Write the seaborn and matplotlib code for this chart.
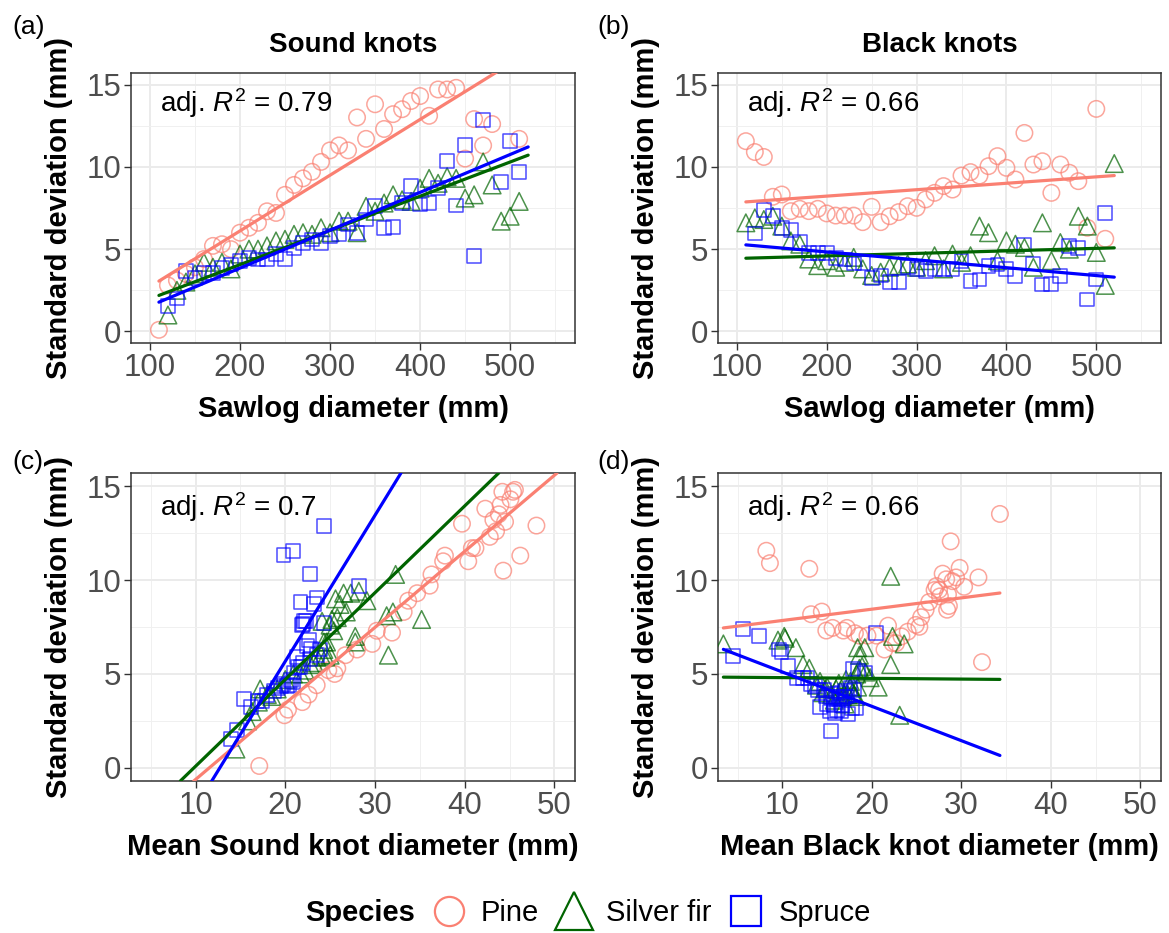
import numpy as np
import pandas as pd
import seaborn as sns
import matplotlib.pyplot as plt
from matplotlib.lines import Line2D
from matplotlib.ticker import MultipleLocator

sns.set_theme(style="white")
plt.rcParams['font.family'] = ['Liberation Sans', 'DejaVu Sans']
plt.rcParams['mathtext.fontset'] = 'custom'
plt.rcParams['mathtext.rm'] = 'Liberation Sans'
plt.rcParams['mathtext.it'] = 'Liberation Sans:italic'
plt.rcParams['text.color'] = 'black'
plt.rcParams['axes.labelcolor'] = 'black'

species = ["Pine", "Silver fir", "Spruce"]
colors = {"Pine": "#FA8072", "Silver fir": "#006400", "Spruce": "#0000FF"}
markers = {"Pine": "o", "Silver fir": "^", "Spruce": "s"}
msize = {"Pine": 140, "Silver fir": 160, "Spruce": 100}

# ---- Sound knots: sawlog diameter class, SD, mean knot diameter ----
pine_saw_a = [110, 120, 130, 140, 150, 160, 170, 180, 190, 200, 210, 220, 230, 240, 250, 260, 270, 280, 290, 300,
              310, 320, 330, 340, 350, 360, 370, 380, 390, 400, 410, 420, 430, 440, 450, 460, 470, 480, 510]
pine_sd_sound = [0.1, 2.8, 3.1, 3.5, 3.9, 4.4, 5.2, 5.3, 5.0, 6.0, 6.3, 6.6, 7.3, 7.2, 8.3, 8.9, 9.3, 9.7, 10.3, 11.0,
                 11.3, 11.0, 13.0, 11.7, 13.8, 12.3, 13.2, 13.5, 14.0, 14.3, 13.1, 14.7, 14.7, 14.8, 10.5, 12.9, 11.3, 12.6, 11.7]
pine_knot_sound = [17.1, 19.9, 20.3, 21.9, 22.6, 23.5, 24.8, 25.8, 25.5, 26.7, 28.0, 29.7, 30.2, 31.9, 33.2, 33.7, 34.7, 36.1, 36.3, 37.6,
                   37.8, 40.4, 39.7, 41.2, 42.3, 42.8, 43.2, 43.8, 44.0, 45.1, 44.5, 44.2, 45.4, 45.6, 44.3, 48.0, 46.2, 43.5, 40.8]

fir_saw_a = [120, 130, 140, 150, 160, 170, 180, 190, 200, 210, 220, 230, 240, 250, 260, 270, 280, 290, 300, 310,
             320, 330, 340, 350, 360, 370, 380, 390, 400, 410, 420, 430, 440, 450, 460, 470, 480, 490, 500, 510]
fir_sd_sound = [1.0, 2.5, 3.0, 3.5, 4.2, 3.9, 4.2, 3.8, 4.7, 5.0, 5.0, 5.2, 5.5, 5.6, 5.9, 6.0, 5.9, 6.3, 6.0, 6.7,
                6.7, 6.0, 7.6, 7.3, 7.8, 8.3, 8.0, 7.9, 8.7, 9.3, 9.0, 9.4, 9.3, 8.1, 8.3, 10.3, 8.9, 6.7, 7.0, 7.9]
fir_knot_sound = [14.5, 15.8, 16.3, 17.0, 17.2, 18.0, 19.1, 18.5, 20.0, 20.9, 21.7, 22.2, 22.8, 23.2, 23.5, 24.0, 24.5, 24.3, 25.0, 24.3,
                  27.8, 31.5, 25.0, 25.4, 24.1, 32.0, 25.8, 35.2, 26.1, 27.3, 25.6, 28.2, 26.5, 31.3, 26.8, 32.3, 29.1, 24.6, 27.8, 25.2]

spruce_saw_a = [120, 130, 140, 150, 160, 170, 180, 190, 200, 210, 220, 230, 240, 250, 260, 270, 280, 290, 300, 310,
                320, 330, 340, 350, 360, 370, 380, 390, 400, 410, 420, 430, 440, 450, 460, 470, 490, 500, 510]
spruce_sd_sound = [1.54, 2.0, 3.66, 3.26, 3.56, 3.56, 3.87, 4.07, 4.27, 4.47, 4.37, 4.37, 4.68, 4.41, 5.08, 5.38, 5.59, 5.38, 5.79, 5.89,
                   6.5, 5.99, 6.8, 7.61, 6.3, 6.35, 7.81, 8.83, 7.71, 7.81, 8.72, 10.34, 7.65, 11.35, 4.57, 12.87, 9.07, 11.56, 9.68]
spruce_knot_sound = [13.9, 14.6, 15.4, 16.2, 16.9, 17.4, 18.0, 18.7, 19.2, 19.8, 19.5, 20.2, 20.6, 20.4, 21.0, 21.7, 22.0, 21.4, 22.8, 21.3,
                     22.4, 23.5, 22.6, 21.9, 23.9, 22.9, 22.1, 21.7, 24.3, 22.3, 23.2, 22.8, 22.0, 19.8, 20.9, 24.3, 23.5, 20.9, 28.2]

# ---- Black knots ----
pine_saw_b = [110, 120, 130, 140, 150, 160, 170, 180, 190, 200, 210, 220, 230, 240, 250, 260, 270, 280, 290, 300,
              310, 320, 330, 340, 350, 360, 370, 380, 390, 400, 410, 420, 430, 440, 450, 460, 470, 480, 490, 500, 510]
pine_sd_black = [11.56, 10.9, 10.6, 8.18, 8.32, 7.31, 7.45, 7.31, 7.45, 7.17, 7.04, 7.04, 7.04, 6.64, 7.57, 6.64, 7.0, 7.25, 7.61, 7.51,
                 8.02, 8.42, 8.83, 8.62, 9.47, 9.68, 9.47, 10.04, 10.65, 9.94, 9.23, 12.06, 10.14, 10.34, 8.42, 10.14, 9.64, 9.13, 6.3, 13.52, 5.63]
pine_knot_black = [8.2, 8.6, 13.0, 13.2, 14.4, 14.9, 15.6, 16.8, 17.2, 18.1, 18.6, 19.5, 20.5, 22.3, 21.8, 22.7, 23.3, 24.0, 24.9, 25.3,
                   25.5, 26.0, 26.4, 28.6, 27.0, 27.2, 27.5, 28.3, 29.8, 29.0, 28.5, 28.8, 29.4, 27.9, 28.4, 31.9, 30.3, 27.6, 21.4, 34.3, 32.3]

fir_saw_b = [110, 120, 130, 140, 150, 160, 170, 180, 190, 200, 210, 220, 230, 240, 250, 260, 270, 280, 290, 300, 310,
             320, 330, 340, 350, 360, 370, 380, 390, 400, 410, 420, 430, 440, 450, 460, 470, 480, 490, 500, 510, 520]
fir_sd_black = [6.6, 6.9, 6.8, 7.0, 6.4, 5.5, 5.3, 4.4, 4.0, 4.3, 3.9, 4.2, 4.5, 3.8, 3.4, 3.6, 3.9, 4.0, 4.1, 3.9, 4.3,
                4.6, 3.8, 4.7, 4.2, 4.6, 6.4, 6.0, 4.3, 5.5, 5.3, 5.1, 3.9, 6.6, 4.3, 5.4, 5.0, 7.0, 6.4, 4.8, 2.8, 10.2]
fir_knot_black = [3.4, 10.3, 9.5, 10.2, 11.5, 12.3, 13.0, 13.8, 14.5, 15.0, 15.5, 16.0, 16.3, 16.7, 17.0, 15.8, 17.3, 17.8, 16.5, 18.0, 18.4,
                  17.6, 18.2, 17.1, 14.8, 14.2, 18.4, 18.6, 20.7, 22.1, 18.6, 19.3, 16.9, 23.6, 17.6, 18.9, 18.3, 22.3, 19.2, 19.8, 23.1, 22.1]

spruce_saw_b = [120, 130, 140, 150, 160, 170, 180, 190, 200, 210, 220, 230, 240, 250, 260, 270, 280, 290, 300, 310,
                320, 330, 340, 350, 360, 370, 380, 390, 400, 410, 420, 430, 440, 450, 460, 470, 480, 490, 500, 510]
spruce_sd_black = [5.95, 7.37, 7.0, 6.3, 6.15, 5.43, 4.78, 4.78, 4.78, 4.47, 4.37, 4.13, 4.17, 3.26, 3.4, 3.0, 3.0, 3.93, 3.77, 3.66,
                   3.77, 3.8, 3.77, 4.27, 3.06, 3.16, 4.0, 4.07, 3.8, 3.36, 5.28, 4.13, 2.85, 2.91, 3.36, 5.18, 5.08, 1.94, 3.16, 7.2]
spruce_knot_black = [4.5, 5.6, 7.4, 9.6, 9.9, 10.6, 11.6, 12.3, 12.8, 13.2, 13.6, 14.0, 14.6, 14.2, 15.0, 15.3, 16.6, 15.6, 16.0, 16.3,
                     16.9, 17.2, 15.4, 17.6, 16.1, 17.8, 16.5, 17.0, 14.9, 15.8, 17.9, 18.0, 17.3, 15.9, 16.7, 18.4, 19.2, 15.4, 18.2, 20.5]

# ---- fitted lines (end points) ----
fit_x_saw = [110, 520]
fit_a = {"Pine": [3.06, 16.94], "Silver fir": [2.19, 10.71], "Spruce": [1.78, 11.21]}
fit_b = {"Pine": [7.87, 9.47], "Silver fir": [4.45, 5.08], "Spruce": [5.26, 3.30]}
fit_c_x = {"Pine": [9.8, 50.3], "Silver fir": [8.3, 43.8], "Spruce": [11.8, 32.9]}
fit_c_y = {"Pine": [-0.7, 15.7], "Silver fir": [-0.7, 15.7], "Spruce": [-0.7, 15.7]}
fit_x_black = [3.4, 34.3]
fit_d = {"Pine": [7.45, 9.31], "Silver fir": [4.83, 4.71], "Spruce": [6.31, 0.66]}

r2_labels = ["0.79", "0.66", "0.7", "0.66"]

panels = {
    "a": {"Pine": (pine_saw_a, pine_sd_sound), "Silver fir": (fir_saw_a, fir_sd_sound), "Spruce": (spruce_saw_a, spruce_sd_sound)},
    "b": {"Pine": (pine_saw_b, pine_sd_black), "Silver fir": (fir_saw_b, fir_sd_black), "Spruce": (spruce_saw_b, spruce_sd_black)},
    "c": {"Pine": (pine_knot_sound, pine_sd_sound), "Silver fir": (fir_knot_sound, fir_sd_sound), "Spruce": (spruce_knot_sound, spruce_sd_sound)},
    "d": {"Pine": (pine_knot_black, pine_sd_black), "Silver fir": (fir_knot_black, fir_sd_black), "Spruce": (spruce_knot_black, spruce_sd_black)},
}
fits = {
    "a": {s: (fit_x_saw, fit_a[s]) for s in species},
    "b": {s: (fit_x_saw, fit_b[s]) for s in species},
    "c": {s: (fit_c_x[s], fit_c_y[s]) for s in species},
    "d": {s: (fit_x_black, fit_d[s]) for s in species},
}

W, H = 1169, 933
fig = plt.figure(figsize=(W / 100, H / 100), dpi=100)


def rect(l, t, r, b):
    return [l / W, 1 - b / H, (r - l) / W, (b - t) / H]


axes = {
    "a": fig.add_axes(rect(131, 73, 575, 343)),
    "b": fig.add_axes(rect(718, 73, 1161, 343)),
    "c": fig.add_axes(rect(131, 473, 575, 781)),
    "d": fig.add_axes(rect(718, 473, 1161, 781)),
}
xlabels = {"a": "Sawlog diameter (mm)", "b": "Sawlog diameter (mm)",
           "c": "Mean Sound knot diameter (mm)", "d": "Mean Black knot diameter (mm)"}

for i, key in enumerate("abcd"):
    ax = axes[key]
    for s in species:
        x, y = panels[key][s]
        sns.scatterplot(x=x, y=y, ax=ax, marker=markers[s], s=msize[s], color=colors[s],
                        facecolor="none", edgecolor=colors[s], linewidth=1.1, alpha=0.7, zorder=3)
    for s in species:
        fx, fy = fits[key][s]
        sns.lineplot(x=fx, y=fy, ax=ax, color=colors[s], lw=2.3, zorder=4)

    if key in "ab":
        ax.set_xlim(79, 572)
        ax.xaxis.set_major_locator(MultipleLocator(100))
        ax.xaxis.set_minor_locator(MultipleLocator(50))
    else:
        ax.set_xlim(2.8, 52.3)
        ax.xaxis.set_major_locator(MultipleLocator(10))
        ax.xaxis.set_minor_locator(MultipleLocator(5))
    ax.set_ylim(-0.7, 15.7)
    ax.yaxis.set_major_locator(MultipleLocator(5))
    ax.yaxis.set_minor_locator(MultipleLocator(2.5))

    ax.grid(which="major", color="#EBEBEB", lw=1.4, zorder=0)
    ax.grid(which="minor", color="#F0F0F0", lw=0.7, zorder=0)
    ax.set_axisbelow(True)
    for sp in ax.spines.values():
        sp.set_color("#333333")
        sp.set_linewidth(1.1)
    ax.tick_params(which="major", length=5, width=1.0, color="#333333", labelsize=22.5,
                   labelcolor="#4D4D4D", pad=2, bottom=True, left=True)
    ax.tick_params(which="minor", length=0)

    ax.set_xlabel(xlabels[key], fontsize=21, fontweight="bold", labelpad=8.5, color="black")
    ax.set_ylabel("Standard deviation (mm)", fontsize=21, fontweight="bold", labelpad=9.5, color="black")
    ax.text(0.065, 0.889, "adj. $R^2$ = " + r2_labels[i], transform=ax.transAxes,
            fontsize=20, va="center", ha="left", color="black")

axes["a"].set_title("Sound knots", fontsize=20, fontweight="bold", pad=15, color="black")
axes["b"].set_title("Black knots", fontsize=20, fontweight="bold", pad=15, color="black")

for tag, (x, y) in {"(a)": (12, 27), "(b)": (597, 27), "(c)": (12, 462), "(d)": (597, 462)}.items():
    fig.text(x / W, 1 - y / H, tag, fontsize=19, va="center", ha="left", color="black")

# legend
fig.text(305 / W, 1 - 913 / H, "Species", fontsize=21, fontweight="bold", va="center", ha="left", color="black")
handles = [
    Line2D([], [], ls="none", marker="o", markersize=21, markerfacecolor="none", markeredgecolor=colors["Pine"], markeredgewidth=1.6),
    Line2D([], [], ls="none", marker="^", markersize=27, markerfacecolor="none", markeredgecolor=colors["Silver fir"], markeredgewidth=1.6),
    Line2D([], [], ls="none", marker="s", markersize=21, markerfacecolor="none", markeredgecolor=colors["Spruce"], markeredgewidth=1.6),
]
fig.legend(handles, species, loc="center left", bbox_to_anchor=(431 / W, 1 - 913 / H), ncol=3,
           frameon=False, fontsize=21, handlelength=1.2, handletextpad=0.5, columnspacing=0.6,
           borderpad=0, borderaxespad=0, labelcolor="black")

fig.savefig("out.png", dpi=100)
